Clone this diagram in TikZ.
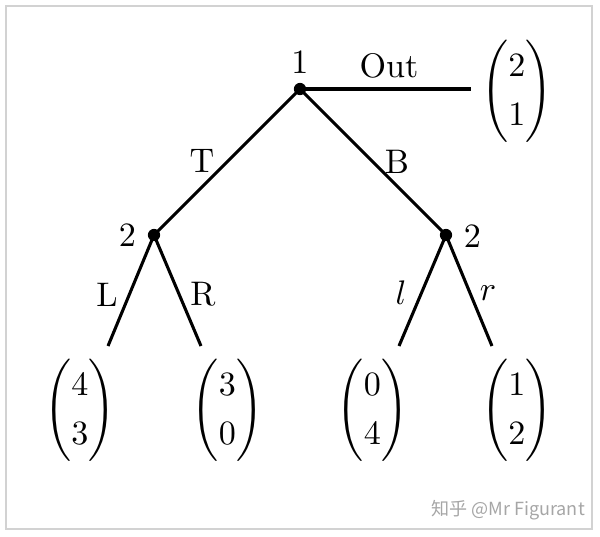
\documentclass[tikz,border=0pt]{standalone}
\usepackage{amsmath}
\usepackage{fontspec}
\newfontfamily\zhfont{Noto Sans CJK SC}
\usetikzlibrary{positioning}
\renewcommand{\arraystretch}{1.2}

\begin{document}
\begin{tikzpicture}[x=0.2933pt, y=-0.2933pt,
  edge/.style={line width=0.9pt},
  dot/.style={circle, fill, inner sep=0pt, minimum size=3.6pt},
  lbl/.style={inner sep=0pt},
  payoff/.style={inner sep=0pt}]
  \useasboundingbox (0,0) rectangle (600,537);
  \draw[gray!35, line width=0.6pt] (6,6) rectangle (592,529);

  \node[dot] (p1)  at (300,89)  {};
  \node[dot] (p2l) at (154,235) {};
  \node[dot] (p2r) at (446,235) {};
  \coordinate (out) at (471,89);
  \coordinate (eL)  at (108,346);
  \coordinate (eR)  at (201,346);
  \coordinate (el)  at (399,346);
  \coordinate (er)  at (492,346);

  \draw[edge] (p1.center) -- (out);
  \draw[edge] (p1.center) -- (p2l.center);
  \draw[edge] (p1.center) -- (p2r.center);
  \draw[edge] (p2l.center) -- (eL);
  \draw[edge] (p2l.center) -- (eR);
  \draw[edge] (p2r.center) -- (el);
  \draw[edge] (p2r.center) -- (er);

  \node[lbl] (n1)   at (300,62.5) {1};
  \node[lbl] (n2l)  at (127.5,235) {2};
  \node[lbl] (n2r)  at (472.5,236) {2};
  \node[lbl] (aOut) at (389,66)   {Out};
  \node[lbl] (aT)   at (202,161)  {T};
  \node[lbl] (aB)   at (397,162)  {B};
  \node[lbl] (aL)   at (107,294.5) {L};
  \node[lbl] (aR)   at (203,294.5) {R};
  \node[lbl] (al)   at (401,293)  {$l$};
  \node[lbl] (ar)   at (488,293.5) {$r$};

  \node[payoff] (vOut) at (517,91)  {$\begin{pmatrix}2\\1\end{pmatrix}$};
  \node[payoff] (vTL)  at (80,410)  {$\begin{pmatrix}4\\3\end{pmatrix}$};
  \node[payoff] (vTR)  at (227.5,410) {$\begin{pmatrix}3\\0\end{pmatrix}$};
  \node[payoff] (vBl)  at (372.5,410) {$\begin{pmatrix}0\\4\end{pmatrix}$};
  \node[payoff] (vBr)  at (517,410) {$\begin{pmatrix}1\\2\end{pmatrix}$};

  \node[text=black!35, font=\zhfont\fontsize{5.3}{6}\selectfont] (mark) at (508,510) {知乎 @Mr Figurant};
\end{tikzpicture}
\end{document}
